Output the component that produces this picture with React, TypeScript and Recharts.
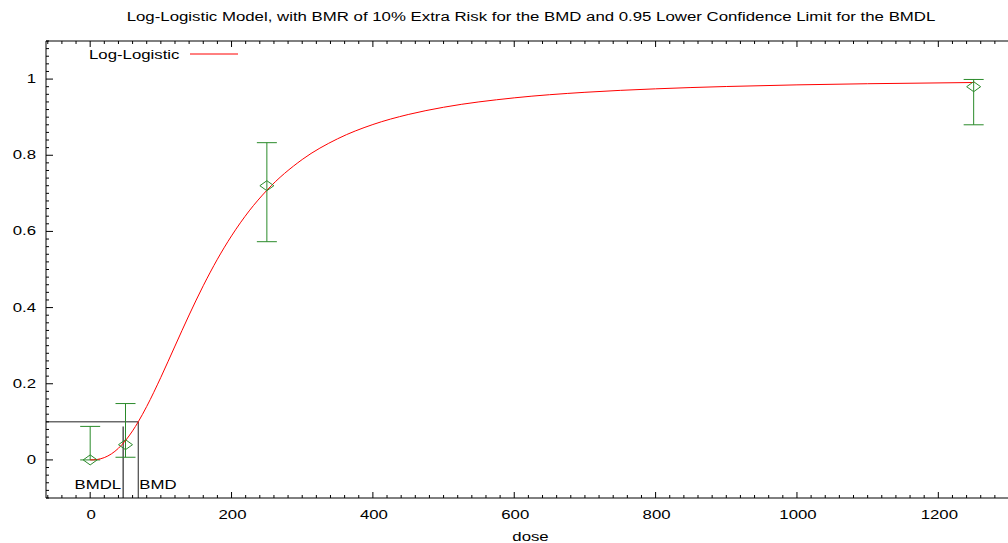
import React from "react";
import {
  ComposedChart,
  Line,
  Scatter,
  ErrorBar,
  XAxis,
  YAxis,
  ReferenceLine,
  Customized,
} from "recharts";

// observed dose groups
const obsDose = [0, 50, 250, 1250];
const obsResp = [0, 0.04, 0.72, 0.98];
const ciLow = [0, 0.007, 0.573, 0.88];
const ciHigh = [0.088, 0.148, 0.833, 0.999];

// fitted log-logistic curve
const curveDose = [0, 5, 10, 20, 30, 40, 50, 60, 68, 80, 100, 120, 140, 160, 180, 200, 225, 250, 300, 350, 400, 450, 500, 600, 700, 800, 900, 1000, 1100, 1250];
const curveResp = [0, 0.0002, 0.0012, 0.0061, 0.0158, 0.0306, 0.0509, 0.0763, 0.1, 0.1404, 0.2169, 0.299, 0.3806, 0.4574, 0.527, 0.5883, 0.6539, 0.708, 0.7888, 0.8432, 0.8807, 0.907, 0.926, 0.9507, 0.9653, 0.9744, 0.9805, 0.9848, 0.9878, 0.991];

const bmr = 0.1;
const bmd = 68;
const bmdl = 46.7;
const bmdlTop = 0.088;

const xMajor = [0, 200, 400, 600, 800, 1000, 1200];
const yMajor = [0, 0.2, 0.4, 0.6, 0.8, 1];

const X_DOMAIN: [number, number] = [-62.5, 1300];
const Y_DOMAIN: [number, number] = [-0.1, 1.1];

const FONT = "'Liberation Sans', Arial, sans-serif";
const GREEN = "#2a8a2a";
const RED = "#ff0000";
const FS = 12;
const STRETCH = 1.4; // the original text is drawn horizontally stretched

const obsData = obsDose.map((d, i) => ({
  dose: d,
  resp: obsResp[i],
  err: [obsResp[i] - ciLow[i], ciHigh[i] - obsResp[i]],
}));
const curveData = curveDose.map((d, i) => ({ dose: d, p: curveResp[i] }));

// minor tick positions (every 20 dose units / 0.02 response)
const xTicks: number[] = [];
for (let v = -60; v <= 1300; v += 20) xTicks.push(v);
const yTicks: number[] = [];
for (let k = -5; k <= 55; k++) yTicks.push(Math.round(k * 2) / 100);

const near = (a: number, list: number[]) => list.some((b) => Math.abs(a - b) < 1e-6);

const SText = ({ x, y, anchor = "start", children }: any) => (
  <text
    transform={`translate(${x},${y}) scale(${STRETCH},1)`}
    x={0}
    y={0}
    textAnchor={anchor}
    fontSize={FS}
    fontFamily={FONT}
    fill="#000"
  >
    {children}
  </text>
);

const BottomTick = (props: any) => {
  const { x, y, payload } = props;
  const v = payload.value;
  const major = near(v, xMajor);
  const len = major ? 6 : 3;
  return (
    <g>
      <line x1={x} y1={y} x2={x} y2={y - len} stroke="#000" />
      {major && (
        <SText x={x + 1} y={519} anchor="middle">
          {v}
        </SText>
      )}
    </g>
  );
};

const TopTick = (props: any) => {
  const { x, y, payload } = props;
  const major = near(payload.value, xMajor);
  const len = major ? 6 : 3;
  return <line x1={x} y1={y} x2={x} y2={y + len} stroke="#000" />;
};

const LeftTick = (props: any) => {
  const { x, y, payload } = props;
  const v = payload.value;
  const major = near(v, yMajor);
  const len = major ? 7 : 3;
  return (
    <g>
      <line x1={x} y1={y} x2={x + len} y2={y} stroke="#000" />
      {major && (
        <SText x={36} y={y + 4} anchor="end">
          {v}
        </SText>
      )}
    </g>
  );
};

const Diamond = (props: any) => {
  const { cx, cy } = props;
  return (
    <polygon
      points={`${cx - 7},${cy} ${cx},${cy - 5} ${cx + 7},${cy} ${cx},${cy + 5}`}
      fill="none"
      stroke={GREEN}
    />
  );
};

const MarkLabel = (text: string, side: "left" | "right") => (props: any) => {
  const vb = props.viewBox || {};
  const x = side === "left" ? vb.x - 2 : vb.x + 1;
  return (
    <SText x={x} y={489} anchor={side === "left" ? "end" : "start"}>
      {text}
    </SText>
  );
};

const DoseLabel = (props: any) => {
  const vb = props.viewBox || {};
  return (
    <SText x={vb.x + vb.width / 2 + 3} y={541} anchor="middle">
      dose
    </SText>
  );
};

const LegendMark = () => (
  <g>
    <SText x={89} y={59}>Log-Logistic</SText>
    <path d="M190,54 L238,54" stroke={RED} strokeWidth={1} fill="none" />
  </g>
);

export default function App() {
  return (
    <div style={{ position: "absolute", left: 0, top: 0, width: 1008, height: 543, overflow: "hidden", background: "#fff" }}>
      <div
        style={{
          position: "absolute",
          top: 10,
          left: 0,
          width: 1062,
          textAlign: "center",
          fontFamily: FONT,
          fontSize: FS,
          lineHeight: "14px",
          color: "#000",
          whiteSpace: "nowrap",
          transform: `scaleX(${STRETCH})`,
          transformOrigin: "531px 0",
        }}
      >
        Log-Logistic Model, with BMR of 10% Extra Risk for the BMD and 0.95 Lower Confidence Limit for the BMDL
      </div>
      <ComposedChart width={1020} height={543} margin={{ top: 40, right: 11, bottom: 44, left: 45 }}>
        <XAxis
          dataKey="dose"
          type="number"
          domain={X_DOMAIN}
          allowDataOverflow
          ticks={xTicks}
          interval={0}
          tickSize={0}
          tickMargin={0}
          height={1}
          tick={<BottomTick />}
          stroke="#000"
          label={<DoseLabel />}
        />
        <XAxis
          xAxisId="top"
          orientation="top"
          dataKey="dose"
          type="number"
          domain={X_DOMAIN}
          allowDataOverflow
          ticks={xTicks}
          interval={0}
          tickSize={0}
          tickMargin={0}
          height={1}
          tick={<TopTick />}
          stroke="#000"
        />
        <YAxis
          type="number"
          domain={Y_DOMAIN}
          allowDataOverflow
          ticks={yTicks}
          interval={0}
          tickSize={0}
          tickMargin={0}
          width={1}
          tick={<LeftTick />}
          stroke="#000"
        />
        <ReferenceLine
          segment={[{ x: X_DOMAIN[0], y: bmr }, { x: bmd, y: bmr }]}
          stroke="#222"
          ifOverflow="visible"
        />
        <ReferenceLine
          segment={[{ x: bmd, y: bmr }, { x: bmd, y: Y_DOMAIN[0] }]}
          stroke="#222"
          ifOverflow="visible"
          label={MarkLabel("BMD", "right")}
        />
        <ReferenceLine
          segment={[{ x: bmdl, y: bmdlTop }, { x: bmdl, y: Y_DOMAIN[0] }]}
          stroke="#555"
          strokeWidth={1.5}
          ifOverflow="visible"
          label={MarkLabel("BMDL", "left")}
        />
        <Scatter data={obsData} dataKey="resp" shape={<Diamond />} isAnimationActive={false}>
          <ErrorBar dataKey="err" direction="y" width={10} stroke={GREEN} strokeWidth={1} />
        </Scatter>
        <Line
          data={curveData}
          dataKey="p"
          type="monotone"
          stroke={RED}
          strokeWidth={1}
          dot={false}
          activeDot={false}
          isAnimationActive={false}
        />
        <Customized component={<LegendMark />} />
      </ComposedChart>
    </div>
  );
}
